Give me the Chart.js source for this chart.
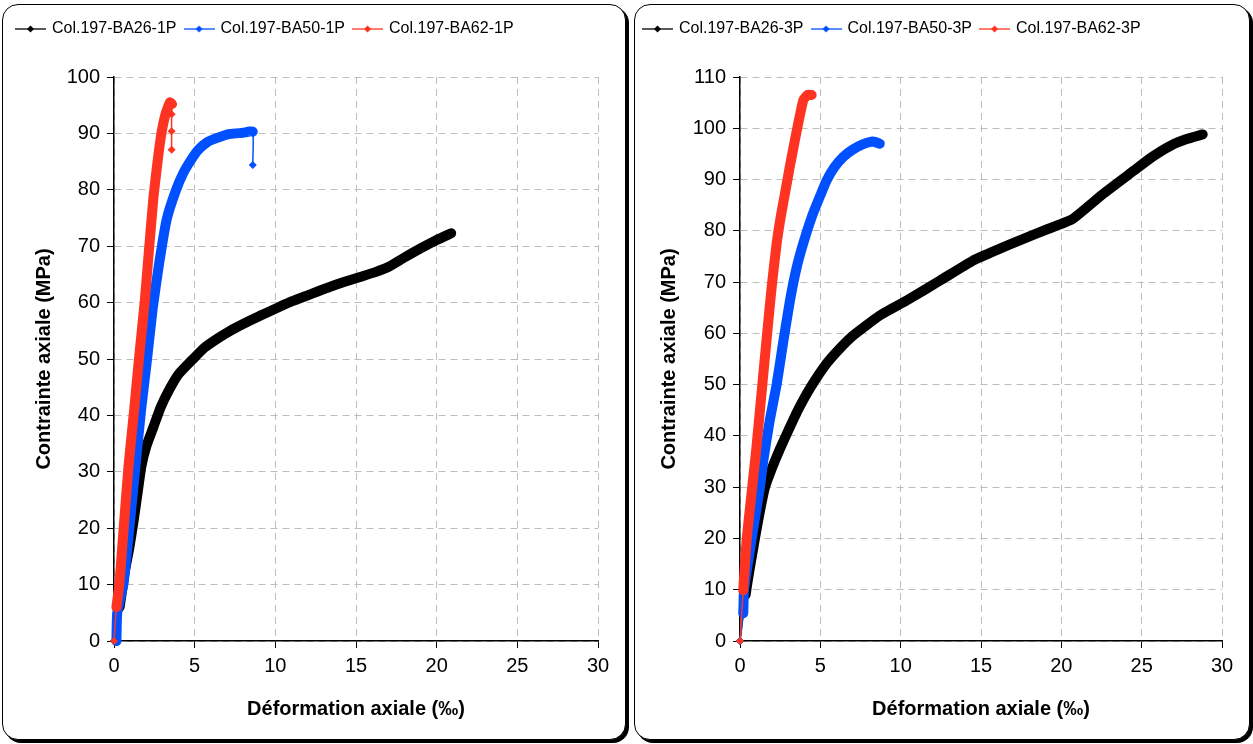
<!DOCTYPE html>
<html>
<head>
<meta charset="utf-8">
<script src="https://cdn.jsdelivr.net/npm/chart.js@4.4.1/dist/chart.umd.min.js"></script>
<style>
    body { margin: 0; background: #fff; width: 1253px; height: 744px; overflow: hidden; }
    .panel {
        position: absolute;
        top: 4px;
        height: 734px;
        border: 1px solid #000;
        border-radius: 16px;
        box-shadow: 3px 3px 0 #000;
        background: #fff;
        overflow: hidden;
    }
    #panel1 { left: 2px; width: 622px; }
    #panel2 { left: 634px; width: 614px; }
    canvas { display: block; }
</style>
</head>
<body>
<div class="panel" id="panel1"><canvas id="chart1P" width="622" height="734"></canvas></div>
<div class="panel" id="panel2"><canvas id="chart3P" width="614" height="734"></canvas></div>

<script>
// axis ticks
const strainTicks = [0, 5, 10, 15, 20, 25, 30];
const stressMax1P = 100;
const stressMax3P = 110;

// ---- Col.197 1P ----
const ba26_1P_start = [[0, 0]];
const ba26_1P_strain = [0.35, 0.65, 0.95, 1.2, 1.45, 1.7, 2.0, 2.45, 2.9, 3.45, 4.0, 4.9, 5.6, 6.4, 7.2, 8.0, 9.0, 10.0, 11.0, 12.2, 13.2, 14.2, 15.2, 16.2, 17.0, 18.0, 19.0, 20.0, 20.9];
const ba26_1P_stress = [6, 12, 16.5, 21, 26, 31, 34.5, 38, 41.5, 44.7, 47.3, 50, 52, 53.6, 55, 56.2, 57.6, 58.9, 60.2, 61.5, 62.6, 63.6, 64.5, 65.4, 66.3, 68, 69.6, 71.1, 72.3];
const ba26_1P_drop = [];

const ba50_1P_start = [];
const ba50_1P_strain = [0.15, 0.2, 0.58, 0.95, 1.33, 1.68, 2.05, 2.4, 2.8, 3.27, 3.85, 4.3, 4.71, 5.2, 5.75, 6.4, 7.2, 8.0, 8.6];
const ba50_1P_stress = [0, 5, 10, 20, 31, 41, 50, 59, 67, 74.8, 80, 83, 85, 87, 88.4, 89.2, 89.9, 90.1, 90.3];
const ba50_1P_drop = [[8.6, 84.4]];

const ba62_1P_start = [[0, 0]];
const ba62_1P_strain = [0.15, 0.33, 0.6, 0.9, 1.25, 1.58, 1.9, 2.1, 2.44, 2.7, 2.95, 3.2, 3.47, 3.6];
const ba62_1P_stress = [6, 10, 20, 31, 41, 51, 60, 67, 78.5, 85, 90.2, 93.5, 95.5, 95.2];
const ba62_1P_drop = [[3.57, 93.4], [3.57, 90.4], [3.57, 87.1]];

// ---- Col.197 3P ----
const ba26_3P_start = [[0, 0]];
const ba26_3P_strain = [0.35, 0.6, 0.93, 1.25, 1.56, 2.0, 2.49, 3.0, 3.6, 4.4, 5.39, 6.2, 7.05, 8.71, 10.37, 12.45, 14.5, 16.0, 17.6, 19.2, 20.7, 22.6, 24.5, 25.6, 26.8, 27.8, 28.8];
const ba26_3P_stress = [9, 14, 20, 25.5, 30, 33.8, 37.5, 41, 45, 49.5, 54.1, 57, 59.6, 63.5, 66.4, 70.3, 74.2, 76.3, 78.4, 80.4, 82.3, 87.2, 91.7, 94.3, 96.6, 97.9, 98.8];
const ba26_3P_drop = [];

const ba50_3P_start = [[0, 0]];
const ba50_3P_strain = [0.2, 0.25, 0.73, 1.24, 1.45, 1.85, 2.28, 2.7, 3.11, 3.5, 3.94, 4.5, 5.0, 5.39, 5.9, 6.43, 7.0, 7.6, 8.3, 8.7];
const ba50_3P_stress = [5.4, 10, 20, 30, 35.2, 43, 50, 58.5, 66.4, 72.5, 77.6, 83, 86.9, 89.8, 92.5, 94.4, 95.8, 96.8, 97.4, 97.0];
const ba50_3P_drop = [];

const ba62_3P_start = [[0, 0]];
const ba62_3P_strain = [0.2, 0.42, 0.76, 1.0, 1.3, 1.66, 1.97, 2.28, 2.55, 2.84, 3.1, 3.53, 3.94, 4.2, 4.46];
const ba62_3P_stress = [9.9, 20, 30, 37, 47, 59, 69, 77.5, 83, 88, 92.5, 99.5, 105.5, 106.5, 106.5];
const ba62_3P_drop = [];

const fontFamily = "'Liberation Sans', Arial, sans-serif";

function buildSeries(label, color, order, start, strain, stress, drop) {
    const data = [];
    start.forEach(p => data.push({ x: p[0], y: p[1] }));
    const first = data.length;
    strain.forEach((x, i) => data.push({ x: x, y: stress[i] }));
    const last = data.length - 1;
    drop.forEach(p => data.push({ x: p[0], y: p[1] }));
    const dense = i => i >= first && i <= last;
    return {
        label: label,
        data: data,
        order: order,
        clip: false,
        showLine: true,
        borderColor: color,
        backgroundColor: color,
        borderWidth: 1.5,
        borderCapStyle: 'round',
        borderJoinStyle: 'round',
        tension: 0.15,
        pointStyle: 'rectRot',
        pointRadius: ctx => dense(ctx.dataIndex) ? 0 : 4,
        pointHoverRadius: 0,
        pointBorderWidth: 0,
        pointBackgroundColor: color,
        segment: {
            borderWidth: ctx => (dense(ctx.p0DataIndex) && dense(ctx.p1DataIndex)) ? 10 : 1.5
        }
    };
}

function legendIcon(color) {
    const c = document.createElement('canvas');
    c.width = 31;
    c.height = 10;
    const g = c.getContext('2d');
    g.strokeStyle = color;
    g.lineWidth = 1.3;
    g.beginPath();
    g.moveTo(0, 5);
    g.lineTo(31, 5);
    g.stroke();
    g.fillStyle = color;
    g.beginPath();
    g.moveTo(15.5, 1.5);
    g.lineTo(19, 5);
    g.lineTo(15.5, 8.5);
    g.lineTo(12, 5);
    g.closePath();
    g.fill();
    return c;
}

function makeChart(id, datasets, yMax, lay) {
    const ctx = document.getElementById(id).getContext('2d');
    const gridOpts = {
        color: '#bdbdbd',
        tickColor: '#000',
        tickBorderDash: [],
        tickLength: 7
    };
    return new Chart(ctx, {
        type: 'scatter',
        data: { datasets: datasets },
        options: {
            responsive: false,
            animation: false,
            layout: {
                padding: { left: lay.left, right: lay.right, top: lay.top, bottom: 10 }
            },
            plugins: {
                tooltip: { enabled: false },
                legend: {
                    position: 'top',
                    align: 'start',
                    labels: {
                        usePointStyle: true,
                        pointStyleWidth: 27,
                        padding: 9,
                        color: '#000',
                        font: { family: fontFamily, size: 16 },
                        sort: (a, b) => a.datasetIndex - b.datasetIndex,
                        generateLabels: chart => {
                            const items = Chart.defaults.plugins.legend.labels.generateLabels(chart);
                            items.forEach(it => {
                                it.pointStyle = legendIcon(chart.data.datasets[it.datasetIndex].borderColor);
                            });
                            return items;
                        }
                    }
                }
            },
            scales: {
                x: {
                    type: 'linear',
                    min: 0,
                    max: 30,
                    afterBuildTicks: s => { s.ticks = strainTicks.map(v => ({ value: v })); },
                    afterFit: s => { s.height = 88; },
                    border: { color: '#000', width: 1.5, dash: [7, 5] },
                    grid: gridOpts,
                    ticks: {
                        color: '#000',
                        padding: 6,
                        maxRotation: 0,
                        font: { family: fontFamily, size: 20 }
                    },
                    title: {
                        display: true,
                        text: 'Déformation axiale (‰)',
                        color: '#000',
                        padding: { top: 0, bottom: 8 },
                        font: { family: fontFamily, size: 20, weight: 'bold' }
                    }
                },
                y: {
                    type: 'linear',
                    min: 0,
                    max: yMax,
                    ticks: {
                        stepSize: 10,
                        color: '#000',
                        padding: 7,
                        font: { family: fontFamily, size: 20 }
                    },
                    afterFit: s => { s.width = lay.yWidth; },
                    border: { color: '#000', width: 1.5, dash: [7, 5] },
                    grid: gridOpts,
                    title: {
                        display: true,
                        text: 'Contrainte axiale (MPa)',
                        color: '#000',
                        padding: { top: lay.titlePad, bottom: 0 },
                        font: { family: fontFamily, size: 20, weight: 'bold' }
                    }
                }
            }
        },
        plugins: [{
            id: 'legendGap',
            beforeInit(chart) {
                const fit = chart.legend.fit;
                chart.legend.fit = function () {
                    fit.call(this);
                    this.height += lay.legendGap;
                };
            }
        }]
    });
}

makeChart('chart1P', [
    buildSeries('Col.197-BA26-1P', '#000000', 3, ba26_1P_start, ba26_1P_strain, ba26_1P_stress, ba26_1P_drop),
    buildSeries('Col.197-BA50-1P', '#0050ff', 2, ba50_1P_start, ba50_1P_strain, ba50_1P_stress, ba50_1P_drop),
    buildSeries('Col.197-BA62-1P', '#ff3322', 1, ba62_1P_start, ba62_1P_strain, ba62_1P_stress, ba62_1P_drop)
], stressMax1P, { left: 5, right: 27, top: 7, yWidth: 106, titlePad: 24, legendGap: 30 });

makeChart('chart3P', [
    buildSeries('Col.197-BA26-3P', '#000000', 3, ba26_3P_start, ba26_3P_strain, ba26_3P_stress, ba26_3P_drop),
    buildSeries('Col.197-BA50-3P', '#0050ff', 2, ba50_3P_start, ba50_3P_strain, ba50_3P_stress, ba50_3P_drop),
    buildSeries('Col.197-BA62-3P', '#ff3322', 1, ba62_3P_start, ba62_3P_strain, ba62_3P_stress, ba62_3P_drop)
], stressMax3P, { left: 0, right: 27, top: 7, yWidth: 105, titlePad: 22, legendGap: 30 });
</script>
</body>
</html>
